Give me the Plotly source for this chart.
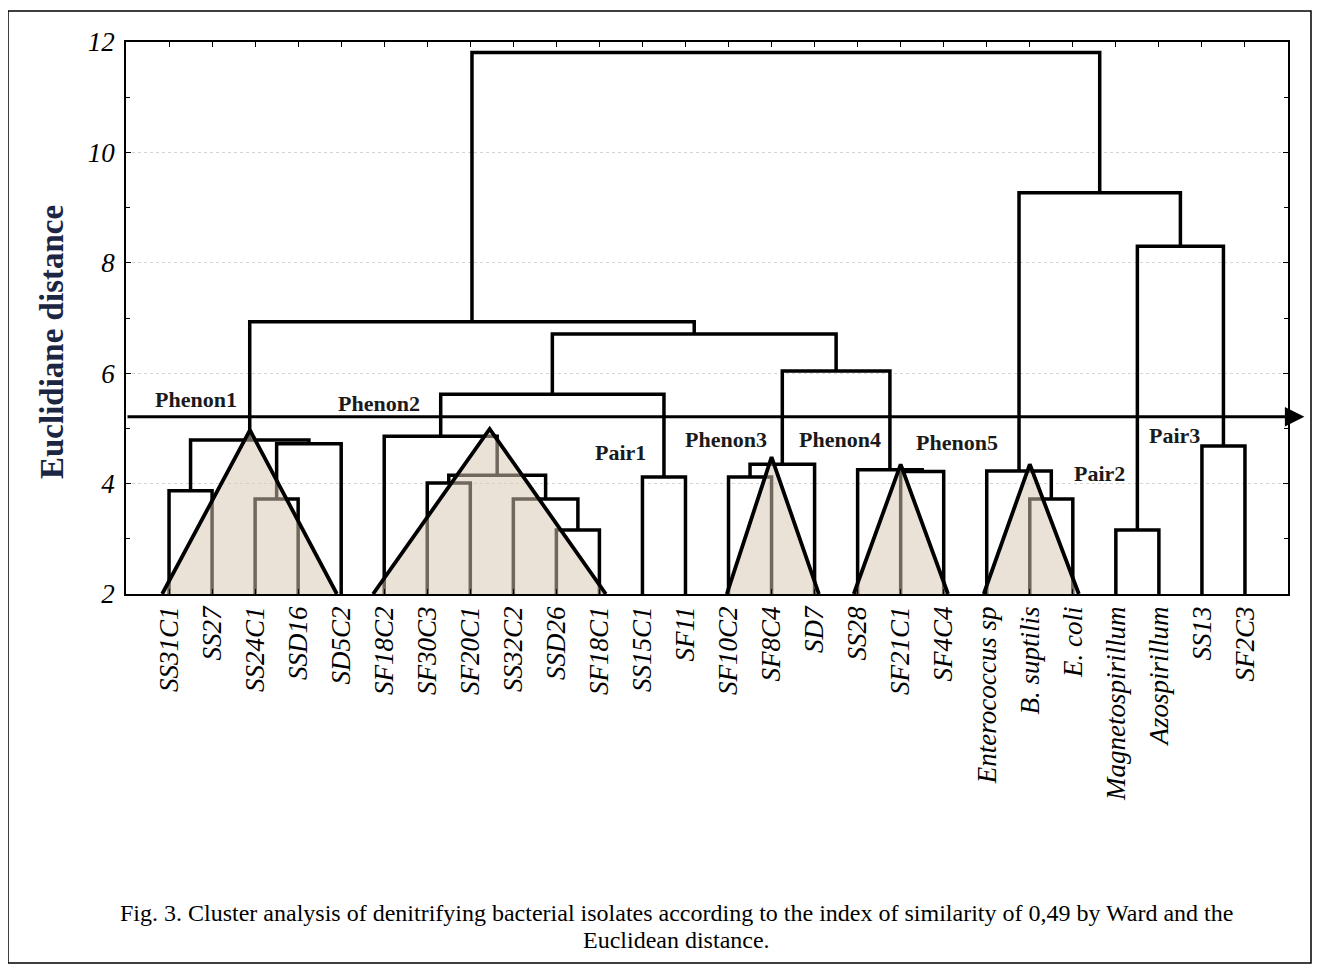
import plotly.graph_objects as go

# ---------------- data ----------------
leaves = ["SS31C1", "SS27", "SS24C1", "SSD16", "SD5C2",
          "SF18C2", "SF30C3", "SF20C1", "SS32C2", "SSD26", "SF18C1",
          "SS15C1", "SF11",
          "SF10C2", "SF8C4", "SD7",
          "SS28", "SF21C1", "SF4C4",
          "Enterococcus sp", "B. suptilis", "E. coli",
          "Magnetospirillum", "Azospirillum",
          "SS13", "SF2C3"]

# linkage: ids 0..25 are leaves, merge k gets id 26+k
merge_left = [0, 2, 27, 26, 6, 9, 8, 30, 5, 11, 34, 13, 37, 17, 16, 38, 36, 29, 20, 19, 22, 24, 46, 45, 43]
merge_right = [1, 3, 4, 28, 7, 10, 31, 32, 33, 12, 35, 14, 15, 18, 39, 40, 41, 42, 21, 44, 23, 25, 47, 48, 49]
merge_height = [3.87, 3.72, 4.72, 4.79, 4.01, 3.16, 3.72, 4.15, 4.86, 4.12, 5.62,
                4.12, 4.35, 4.22, 4.25, 6.04, 6.71, 6.93, 3.72, 4.23, 3.16, 4.68,
                8.30, 9.27, 11.81]

# highlighted groups (triangles): base left, base right, apex x, apex height
tri_left = [0.84, 5.74, 13.96, 16.91, 19.93]
tri_right = [4.90, 11.15, 16.10, 19.10, 22.14]
tri_apex_x = [2.88, 8.45, 15.00, 18.00, 21.00]
tri_apex_y = [4.97, 4.99, 4.48, 4.35, 4.35]

group_names = ["Phenon1", "Phenon2", "Pair1", "Phenon3", "Phenon4", "Phenon5", "Pair2", "Pair3"]
group_x = [1.63, 5.88, 11.48, 13.94, 16.59, 19.31, 22.61, 24.37]
group_y = [5.53, 5.46, 4.57, 4.79, 4.79, 4.74, 4.19, 4.88]

cut_level = 5.21
y_ticks = [2, 4, 6, 8, 10, 12]
base_level = 2

caption1 = "Fig. 3. Cluster analysis of denitrifying bacterial isolates according to the index of similarity of 0,49 by Ward and the"
caption2 = "Euclidean distance."

# ---------------- build dendrogram segments ----------------
n = len(leaves)
pos = {i: i + 1 for i in range(n)}
hgt = {i: base_level for i in range(n)}
xs, ys = [], []
for k, (a, b, h) in enumerate(zip(merge_left, merge_right, merge_height)):
    xa, xb = pos[a], pos[b]
    xs += [xa, xa, xb, xb, None]
    ys += [hgt[a], h, h, hgt[b], None]
    pos[n + k] = (xa + xb) / 2
    hgt[n + k] = h

# figure geometry (page has an 8px body margin)
W, H = 1304, 957
ML, MT, PW, PH = 118, 34, 1162, 552
MR, MB = W - ML - PW, H - MT - PH
BOT = MT + PH


def px_x(p):  # page x pixel -> paper x
    return (p - 8 - ML) / PW


def px_y(p):  # page y pixel -> paper y
    return (BOT - (p - 8)) / PH


SERIF = "Liberation Serif, Times New Roman, serif"
fig = go.Figure()
fig.add_trace(go.Scatter(x=xs, y=ys, mode="lines",
                         line=dict(color="black", width=3.5),
                         hoverinfo="skip", showlegend=False))

# triangles: translucent fill over the branches, then black outline
for l, r, ax, ay in zip(tri_left, tri_right, tri_apex_x, tri_apex_y):
    fig.add_trace(go.Scatter(x=[l, ax, r, l], y=[base_level, ay, base_level, base_level],
                             mode="lines", fill="toself",
                             fillcolor="rgba(214,200,178,0.52)",
                             line=dict(width=0), hoverinfo="skip", showlegend=False))
for l, r, ax, ay in zip(tri_left, tri_right, tri_apex_x, tri_apex_y):
    fig.add_trace(go.Scatter(x=[l, ax, r], y=[base_level, ay, base_level],
                             mode="lines", line=dict(color="black", width=3.8),
                             hoverinfo="skip", showlegend=False, cliponaxis=False))

# cut line with arrow
fig.add_annotation(x=27.38, y=cut_level, ax=0, ay=cut_level, xref="x", yref="y",
                   axref="x", ayref="y", text="", showarrow=True,
                   arrowhead=2, arrowsize=1.3, arrowwidth=3, arrowcolor="black")

# group labels
for name, gx, gy in zip(group_names, group_x, group_y):
    fig.add_annotation(x=gx, y=gy, xref="x", yref="y", text="<b>%s</b>" % name,
                       showarrow=False, font=dict(family=SERIF, size=22, color="#1a1a1a"))

# y axis title
fig.add_annotation(x=px_x(52), y=px_y(342), xref="paper", yref="paper",
                   xanchor="center", yanchor="middle",
                   text="<b>Euclidiane distance</b>", textangle=-90, showarrow=False,
                   font=dict(family=SERIF, size=33, color="#1c2541"))

# caption
fig.add_annotation(x=px_x(676), y=px_y(913), xref="paper", yref="paper", text=caption1,
                   xanchor="center", yanchor="middle",
                   showarrow=False, font=dict(family=SERIF, size=24, color="black"))
fig.add_annotation(x=px_x(676), y=px_y(940), xref="paper", yref="paper", text=caption2,
                   xanchor="center", yanchor="middle",
                   showarrow=False, font=dict(family=SERIF, size=24, color="black"))

# outer frame
fig.add_shape(type="rect", xref="paper", yref="paper",
              x0=px_x(8), x1=px_x(1311), y0=px_y(963), y1=px_y(11),
              line=dict(color="black", width=1.5), layer="below")

fig.update_xaxes(range=[0, n + 1], tickvals=list(range(1, n + 1)), ticktext=leaves,
                 tickangle=-90, tickfont=dict(family=SERIF, size=27, color="black", style="italic"),
                 ticks="inside", ticklen=5, tickcolor="black", tickwidth=1,
                 showline=True, linecolor="black", linewidth=1.5, mirror="ticks",
                 showgrid=False, zeroline=False)
fig.update_yaxes(range=[2, 12], tickvals=y_ticks, ticktext=[str(v) for v in y_ticks],
                 tickfont=dict(family=SERIF, size=27, color="black", style="italic"),
                 ticks="inside", ticklen=5, tickcolor="black", tickwidth=1,
                 minor=dict(dtick=1, ticks="inside", ticklen=4, tickcolor="black", showgrid=False),
                 showline=True, linecolor="black", linewidth=1.5, mirror="ticks",
                 showgrid=True, gridcolor="#d4d4d4", griddash="dot", gridwidth=1,
                 zeroline=False, ticklabelstandoff=4)

fig.update_layout(width=W, height=H, margin=dict(l=ML, r=MR, t=MT, b=MB),
                  paper_bgcolor="white", plot_bgcolor="white", showlegend=False)

fig.write_html("out.html")
